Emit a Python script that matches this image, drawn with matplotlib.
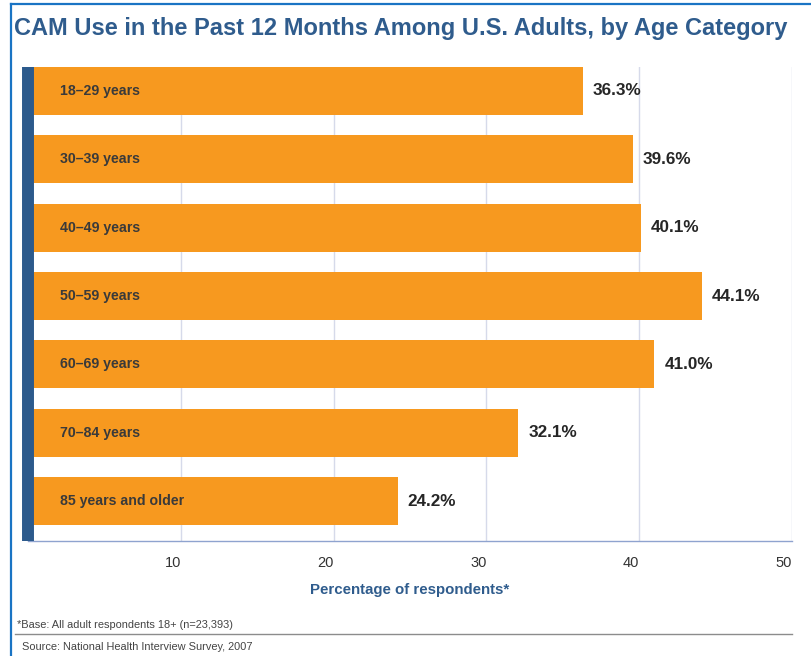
import matplotlib
matplotlib.use("Agg")
import matplotlib.pyplot as plt
from matplotlib.lines import Line2D

plt.rcParams['font.family'] = ['Liberation Sans', 'DejaVu Sans']

# data
age_groups = ["18–29 years", "30–39 years", "40–49 years", "50–59 years",
              "60–69 years", "70–84 years", "85 years and older"]
cam_use = [36.3, 39.6, 40.1, 44.1, 41.0, 32.1, 24.2]
x_ticks = [10, 20, 30, 40, 50]

title = "CAM Use in the Past 12 Months Among U.S. Adults, by Age Category"
xlabel = "Percentage of respondents*"
footnote = "*Base: All adult respondents 18+ (n=23,393)"
source = "Source: National Health Interview Survey, 2007"

orange = "#F7991F"
navy = "#2C5A8C"
title_blue = "#2F5C8D"
frame_blue = "#1A74C4"

W, H = 811, 656
fig = plt.figure(figsize=(W / 100, H / 100), dpi=100)
ax = fig.add_axes([28 / W, (H - 541) / H, (792 - 28) / W, (541 - 67) / H])

ypos = list(range(len(age_groups)))
ax.barh(ypos, cam_use, height=0.70, color=orange, zorder=2)

for y, v, name in zip(ypos, cam_use, age_groups):
    ax.text(v + 0.65, y, f"{v:.1f}%", va="center", ha="left",
            fontsize=12.3, fontweight="bold", color="#262626", zorder=3)
    ax.text(2.1, y, name, va="center", ha="left",
            fontsize=10.2, fontweight="bold", color="#3A3A3A", zorder=3)

ax.set_xlim(0, 50)
ax.set_ylim(6.584, -0.35)
ax.set_yticks([])
ax.set_xticks(x_ticks)
ax.set_xticklabels([str(t) for t in x_ticks])
for lab in ax.get_xticklabels():
    lab.set_ha("right")
ax.tick_params(axis="x", length=0, pad=11, labelsize=10.5, labelcolor="#333333")
ax.grid(axis="x", color="#D6DAEA", linewidth=1, zorder=0)
ax.set_axisbelow(True)

for s in ["top", "right"]:
    ax.spines[s].set_visible(False)
ax.spines["bottom"].set_color("#8FA3CF")
ax.spines["bottom"].set_linewidth(1)
ax.spines["left"].set_color(navy)
ax.spines["left"].set_linewidth(8.6)
ax.spines["left"].set_capstyle("butt")
ax.spines["left"].set_zorder(4)

ax.set_xlabel(xlabel, fontsize=10.8, fontweight="bold", color=title_blue, labelpad=9)

fig.text(14 / W, 1 - 28 / H, title, fontsize=17, fontweight="bold",
         color=title_blue, ha="left", va="center")
fig.text(17 / W, 1 - 625 / H, footnote, fontsize=7.9, color="#444444",
         ha="left", va="center")
fig.text(22 / W, 1 - 647 / H, source, fontsize=7.9, color="#444444",
         ha="left", va="center")

# frame lines and footnote rule
fig.add_artist(Line2D([11 / W, 11 / W], [0, 1 - 4 / H], color=frame_blue, linewidth=1.6))
fig.add_artist(Line2D([11 / W, 1], [1 - 4 / H, 1 - 4 / H], color=frame_blue, linewidth=1.6))
fig.add_artist(Line2D([15 / W, 792 / W], [1 - 634 / H, 1 - 634 / H], color="#8C8C8C", linewidth=1))

fig.savefig("out.png", dpi=100)
